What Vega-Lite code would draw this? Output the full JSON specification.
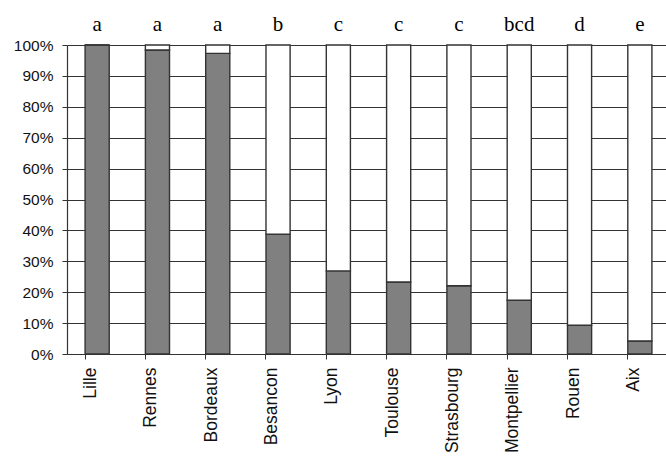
{
  "$schema": "https://vega.github.io/schema/vega-lite/v6.json",
  "autosize": "none",
  "width": 603,
  "height": 309,
  "padding": {"left": 67, "top": 45, "right": -4, "bottom": 102},
  "background": "white",
  "config": {"view": {"stroke": null}},
  "datasets": {
    "bars": [
      {"city": "Lille", "status": "pos", "share": 1.0},
      {"city": "Lille", "status": "neg", "share": 0.0},
      {"city": "Rennes", "status": "pos", "share": 0.984},
      {"city": "Rennes", "status": "neg", "share": 0.016},
      {"city": "Bordeaux", "status": "pos", "share": 0.973},
      {"city": "Bordeaux", "status": "neg", "share": 0.027},
      {"city": "Besancon", "status": "pos", "share": 0.388},
      {"city": "Besancon", "status": "neg", "share": 0.612},
      {"city": "Lyon", "status": "pos", "share": 0.269},
      {"city": "Lyon", "status": "neg", "share": 0.731},
      {"city": "Toulouse", "status": "pos", "share": 0.233},
      {"city": "Toulouse", "status": "neg", "share": 0.767},
      {"city": "Strasbourg", "status": "pos", "share": 0.221},
      {"city": "Strasbourg", "status": "neg", "share": 0.779},
      {"city": "Montpellier", "status": "pos", "share": 0.174},
      {"city": "Montpellier", "status": "neg", "share": 0.826},
      {"city": "Rouen", "status": "pos", "share": 0.093},
      {"city": "Rouen", "status": "neg", "share": 0.907},
      {"city": "Aix", "status": "pos", "share": 0.042},
      {"city": "Aix", "status": "neg", "share": 0.958}
    ],
    "letters": [
      {"city": "Lille", "group": "a", "share": 1},
      {"city": "Rennes", "group": "a", "share": 1},
      {"city": "Bordeaux", "group": "a", "share": 1},
      {"city": "Besancon", "group": "b", "share": 1},
      {"city": "Lyon", "group": "c", "share": 1},
      {"city": "Toulouse", "group": "c", "share": 1},
      {"city": "Strasbourg", "group": "c", "share": 1},
      {"city": "Montpellier", "group": "bcd", "share": 1},
      {"city": "Rouen", "group": "d", "share": 1},
      {"city": "Aix", "group": "e", "share": 1}
    ]
  },
  "encoding": {
    "x": {
      "field": "city",
      "type": "nominal",
      "sort": null,
      "scale": {"paddingInner": 0.6, "paddingOuter": 0.3},
      "axis": {
        "title": null,
        "bandPosition": 0,
        "labelOffset": -6,
        "labelAngle": -90,
        "labelAlign": "right",
        "labelBaseline": "middle",
        "labelFont": "Liberation Sans",
        "labelFontSize": 17.5,
        "labelColor": "#111111",
        "labelPadding": 8,
        "labelOverlap": false,
        "labelBound": false,
        "tickColor": "#333333",
        "tickSize": 5,
        "domainColor": "#333333",
        "domainWidth": 1.2,
        "grid": false
      }
    },
    "y": {
      "field": "share",
      "type": "quantitative",
      "scale": {"domain": [0, 1], "nice": false},
      "axis": {
        "title": null,
        "format": "%",
        "values": [0, 0.1, 0.2, 0.3, 0.4, 0.5, 0.6, 0.7, 0.8, 0.9, 1],
        "labelOverlap": false,
        "labelFont": "Liberation Sans",
        "labelFontSize": 15.5,
        "labelColor": "#111111",
        "labelPadding": 9,
        "tickSize": 5,
        "tickColor": "#333333",
        "domainColor": "#333333",
        "domainWidth": 1.2,
        "grid": true,
        "gridColor": "#333333",
        "gridWidth": 1.2
      }
    }
  },
  "layer": [
    {
      "data": {"name": "bars"},
      "mark": {"type": "bar", "stroke": "#333333", "strokeWidth": 1.4},
      "encoding": {
        "y": {
          "field": "share",
          "type": "quantitative",
          "stack": "zero"
        },
        "color": {
          "field": "status",
          "type": "nominal",
          "scale": {"domain": ["pos", "neg"], "range": ["#808080", "#ffffff"]},
          "legend": null
        },
        "order": {"field": "status", "sort": "descending"}
      }
    },
    {
      "data": {"name": "letters"},
      "mark": {
        "type": "text",
        "font": "Liberation Serif",
        "fontSize": 21,
        "baseline": "alphabetic",
        "dy": -14,
        "color": "#000000"
      },
      "encoding": {
        "text": {"field": "group"}
      }
    }
  ]
}
